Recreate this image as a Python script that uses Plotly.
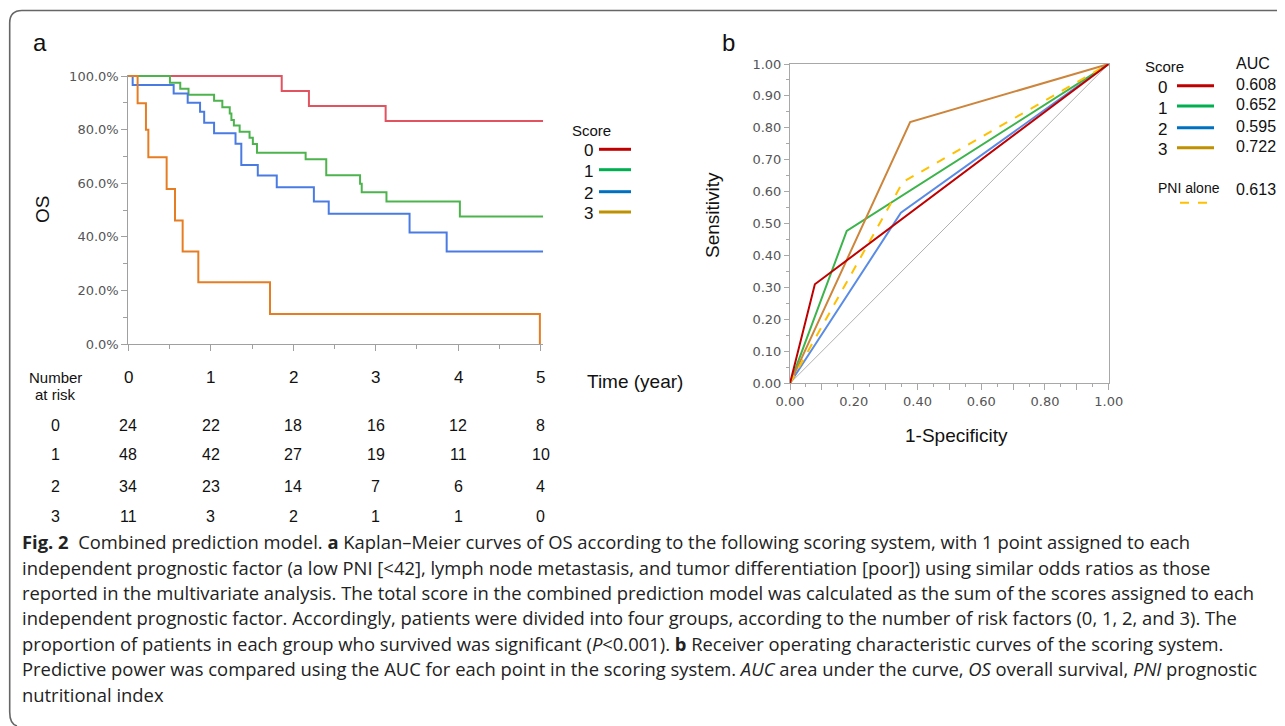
import plotly.graph_objects as go

W, H = 1285, 726
OFF_X, OFF_Y = 8, 8  # page body margin compensation

# ---------------- DATA ----------------
score_labels = ["0", "1", "2", "3"]

# Kaplan-Meier step data (time in years, survival in %)
km_time_0 = [0, 1.86, 2.19, 3.12, 5.03]
km_surv_0 = [100, 94.4, 88.8, 83.2, 83.2]

km_time_1 = [0, 0.505, 0.63, 0.73, 1.04, 1.14, 1.23, 1.25, 1.28, 1.35, 1.47, 1.51, 1.56,
             2.15, 2.40, 2.81, 2.83, 3.13, 4.02, 5.03]
km_surv_1 = [100, 97.5, 95.2, 93.0, 90.8, 88.3, 86.0, 83.6, 81.5, 79.2, 77.0, 74.6, 71.4,
             68.9, 63.0, 59.8, 56.6, 53.2, 47.6, 47.6]

km_time_2 = [0, 0.053, 0.55, 0.72, 0.87, 0.92, 1.04, 1.30, 1.37, 1.57, 1.80, 2.25, 2.43,
             3.41, 3.86, 5.03]
km_surv_2 = [100, 96.6, 93.5, 90.0, 86.7, 82.6, 78.6, 74.7, 66.8, 62.9, 58.5, 53.2, 48.6,
             41.6, 34.5, 34.5]

km_time_3 = [0, 0.113, 0.214, 0.243, 0.465, 0.566, 0.659, 0.849, 1.718, 4.99]
km_surv_3 = [100, 89.8, 79.9, 69.7, 57.8, 46.1, 34.5, 23.0, 11.2, 0]

risk_times = [0, 1, 2, 3, 4, 5]
risk_0 = [24, 22, 18, 16, 12, 8]
risk_1 = [48, 42, 27, 19, 11, 10]
risk_2 = [34, 23, 14, 7, 6, 4]
risk_3 = [11, 3, 2, 1, 1, 0]

km_ytick_vals = [0, 20, 40, 60, 80, 100]
km_ytick_text = ["0.0%", "20.0%", "40.0%", "60.0%", "80.0%", "100.0%"]

# ROC curves (1-specificity, sensitivity)
roc_fpr_0 = [0, 0.078, 1]
roc_tpr_0 = [0, 0.31, 1]
roc_fpr_1 = [0, 0.178, 1]
roc_tpr_1 = [0, 0.477, 1]
roc_fpr_2 = [0, 0.348, 1]
roc_tpr_2 = [0, 0.534, 1]
roc_fpr_3 = [0, 0.377, 1]
roc_tpr_3 = [0, 0.818, 1]
roc_fpr_pni = [0, 0.354, 1]
roc_tpr_pni = [0, 0.63, 1]
ref_line = [0, 1]

auc_values = ["0.608", "0.652", "0.595", "0.722"]
auc_pni = "0.613"

roc_tick_vals = [0, 0.1, 0.2, 0.3, 0.4, 0.5, 0.6, 0.7, 0.8, 0.9, 1.0]

caption_lines = [
    "<b>Fig. 2</b>  Combined prediction model. <b>a</b> Kaplan–Meier curves of OS according to the following scoring system, with 1 point assigned to each",
    "independent prognostic factor (a low PNI [&lt;42], lymph node metastasis, and tumor differentiation [poor]) using similar odds ratios as those",
    "reported in the multivariate analysis. The total score in the combined prediction model was calculated as the sum of the scores assigned to each",
    "independent prognostic factor. Accordingly, patients were divided into four groups, according to the number of risk factors (0, 1, 2, and 3). The",
    "proportion of patients in each group who survived was significant (<i>P</i>&lt;0.001). <b>b</b> Receiver operating characteristic curves of the scoring system.",
    "Predictive power was compared using the AUC for each point in the scoring system. <i>AUC</i> area under the curve, <i>OS</i> overall survival, <i>PNI</i> prognostic",
    "nutritional index",
]

# ---------------- STYLE ----------------
km_colors = ["#e2525f", "#4db34d", "#4a7be3", "#e67d23"]
roc_colors = ["#c00000", "#3cb44b", "#5a8ce6", "#cd853c"]
legend_colors = ["#c00000", "#00b050", "#0070c0", "#bf9000"]
pni_color = "#ffc000"
tick_font = dict(family="DejaVu Sans, Verdana, sans-serif", size=13, color="#555555")
arial = "Liberation Sans, Arial, sans-serif"
narrow = "Liberation Sans Narrow, Arial Narrow, Liberation Sans, sans-serif"
cap_font = "Open Sans, Noto Sans, sans-serif"


def px(x):
    return (x - OFF_X) / W


def py(y):
    return 1 - (y - OFF_Y) / H


fig = go.Figure()

km_times = [km_time_0, km_time_1, km_time_2, km_time_3]
km_survs = [km_surv_0, km_surv_1, km_surv_2, km_surv_3]
for t, s, c in zip(km_times, km_survs, km_colors):
    fig.add_trace(go.Scatter(x=t, y=s, mode="lines", line=dict(color=c, width=2, shape="hv"),
                             xaxis="x", yaxis="y", showlegend=False, hoverinfo="skip"))

fig.add_trace(go.Scatter(x=ref_line, y=ref_line, mode="lines", line=dict(color="#b0b0b0", width=1),
                         xaxis="x2", yaxis="y2", showlegend=False, hoverinfo="skip"))
roc_f = [roc_fpr_0, roc_fpr_1, roc_fpr_2, roc_fpr_3]
roc_t = [roc_tpr_0, roc_tpr_1, roc_tpr_2, roc_tpr_3]
for i in [2, 1, 3]:
    fig.add_trace(go.Scatter(x=roc_f[i], y=roc_t[i], mode="lines", line=dict(color=roc_colors[i], width=2),
                             xaxis="x2", yaxis="y2", showlegend=False, hoverinfo="skip"))
fig.add_trace(go.Scatter(x=roc_fpr_pni, y=roc_tpr_pni, mode="lines",
                         line=dict(color=pni_color, width=2, dash="dash"),
                         xaxis="x2", yaxis="y2", showlegend=False, hoverinfo="skip"))
fig.add_trace(go.Scatter(x=roc_f[0], y=roc_t[0], mode="lines", line=dict(color=roc_colors[0], width=2),
                         xaxis="x2", yaxis="y2", showlegend=False, hoverinfo="skip"))

# KM axis geometry
ka_x0, ka_x5 = 128.3, 540.7
ka_pxyr = (ka_x5 - ka_x0) / 5
ka_xmax = 5.03
ka_y0, ka_y100 = 344, 76
ka_ppct = (ka_y0 - ka_y100) / 100
ka_ymax = 100.5

rb_x0, rb_x1 = 790, 1108.7
rb_y0, rb_y1 = 383.3, 64

fig.update_layout(
    width=W, height=H, autosize=False,
    margin=dict(l=0, r=0, t=0, b=0, pad=0, autoexpand=False),
    paper_bgcolor="white", plot_bgcolor="white",
    xaxis=dict(domain=[px(ka_x0), px(ka_x0 + ka_xmax * ka_pxyr)], range=[0, ka_xmax], automargin=False,
               showgrid=False, zeroline=False, showline=True, linecolor="#a0a0a0", linewidth=1,
               ticks="outside", tickvals=risk_times, ticklen=6, tickcolor="#a0a0a0",
               showticklabels=False,
               minor=dict(dtick=0.5, ticks="outside", ticklen=4, tickcolor="#a0a0a0")),
    yaxis=dict(domain=[py(ka_y0), py(ka_y100 - (ka_ymax - 100) * ka_ppct)], range=[0, ka_ymax],
               automargin=False,
               showgrid=False, zeroline=False, showline=True, linecolor="#a0a0a0", linewidth=1,
               ticks="outside", tickvals=km_ytick_vals, ticktext=km_ytick_text, ticklen=6,
               tickcolor="#a0a0a0", tickfont=tick_font,
               minor=dict(dtick=10, ticks="outside", ticklen=4, tickcolor="#a0a0a0")),
    xaxis2=dict(domain=[px(rb_x0), px(rb_x1)], range=[0, 1], anchor="y2", automargin=False,
                showgrid=False, zeroline=False, showline=True, mirror=True,
                linecolor="#a8a8a8", linewidth=1,
                ticks="outside", tickvals=roc_tick_vals,
                ticktext=[("%.2f" % v) if round(v * 10) % 2 == 0 else "" for v in roc_tick_vals],
                ticklen=6, tickcolor="#a8a8a8", tickfont=tick_font,
                minor=dict(dtick=0.05, ticks="outside", ticklen=3, tickcolor="#a8a8a8")),
    yaxis2=dict(domain=[py(rb_y0), py(rb_y1)], range=[0, 1], anchor="x2", automargin=False,
                showgrid=False, zeroline=False, showline=True, mirror=True,
                linecolor="#a8a8a8", linewidth=1,
                ticks="outside", tickvals=roc_tick_vals, ticktext=["%.2f" % v for v in roc_tick_vals],
                ticklen=5, tickcolor="#a8a8a8", tickfont=tick_font,
                minor=dict(dtick=0.05, ticks="outside", ticklen=3, tickcolor="#a8a8a8")),
)

ann = []


def text(x, y, s, size, family=arial, color="#111111", xanchor="center", xref="paper", angle=0):
    ann.append(dict(x=x if xref != "paper" else px(x), y=py(y), xref=xref, yref="paper", text=s,
                    showarrow=False, xanchor=xanchor, yanchor="middle", textangle=angle,
                    font=dict(family=family, size=size, color=color)))


# Panel labels
text(40, 42, "a", 24)
text(728, 43, "b", 24)

# KM axis title
text(42, 210, "OS", 19, angle=-90)

# Number at risk table
text(55, 377, "Number", 15, family=narrow)
text(55, 394, "at risk", 15, family=narrow)
for t in risk_times:
    text(t, 377, str(t), 17, family=narrow, xref="x")
text(635, 381, "Time (year)", 19)
row_y = [425, 455, 486, 516]
for lab, counts, yy in zip(score_labels, [risk_0, risk_1, risk_2, risk_3], row_y):
    text(55, yy, lab, 16, family=narrow)
    for t, n in zip(risk_times, counts):
        text(t, yy, str(n), 16, family=narrow, xref="x")

# KM legend
text(591, 130, "Score", 15)
leg_a_y = [149.3, 169.7, 191.7, 212]
shapes = []
for lab, c, yy in zip(score_labels, legend_colors, leg_a_y):
    text(588, yy + 1.5, lab, 17)
    shapes.append(dict(type="line", xref="paper", yref="paper", x0=px(599), x1=px(631),
                       y0=py(yy), y1=py(yy), line=dict(color=c, width=3)))

# ROC axis titles
text(712, 215, "Sensitivity", 19, angle=-90)
text(956, 435, "1-Specificity", 19)

# ROC legend
text(1164, 66, "Score", 15)
text(1253, 63, "AUC", 16)
leg_b_y = [85.7, 106, 127.7, 147.7]
for lab, c, yy, auc in zip(score_labels, legend_colors, leg_b_y, auc_values):
    text(1162, yy + 2, lab, 17)
    text(1256, yy - 1, auc, 16)
    shapes.append(dict(type="line", xref="paper", yref="paper", x0=px(1177), x1=px(1214),
                       y0=py(yy), y1=py(yy), line=dict(color=c, width=3)))
text(1189, 188, "PNI alone", 14)
text(1256, 190, auc_pni, 16)
shapes.append(dict(type="line", xref="paper", yref="paper", x0=px(1180), x1=px(1211),
                   y0=py(202.7), y1=py(202.7), line=dict(color=pni_color, width=2, dash="dash")))

# Caption
cap_y = [541, 567, 592, 617, 643, 668, 694]
for line, yy in zip(caption_lines, cap_y):
    text(20, yy, line, 18.4, family=cap_font, color="#222222", xanchor="left")

# Outer frame (top + left edges with rounded corners)
path = ("M %f,%f L %f,%f Q %f,%f %f,%f L %f,%f Q %f,%f %f,%f" % (
    px(1300), py(10.5), px(22), py(10.5), px(9.7), py(10.5), px(9.7), py(23),
    px(9.7), py(712), px(9.7), py(724), px(17), py(726)))
shapes.append(dict(type="path", xref="paper", yref="paper", path=path,
                   line=dict(color="#666666", width=1.6)))

fig.update_layout(annotations=ann, shapes=shapes)
fig.write_html("out.html")
